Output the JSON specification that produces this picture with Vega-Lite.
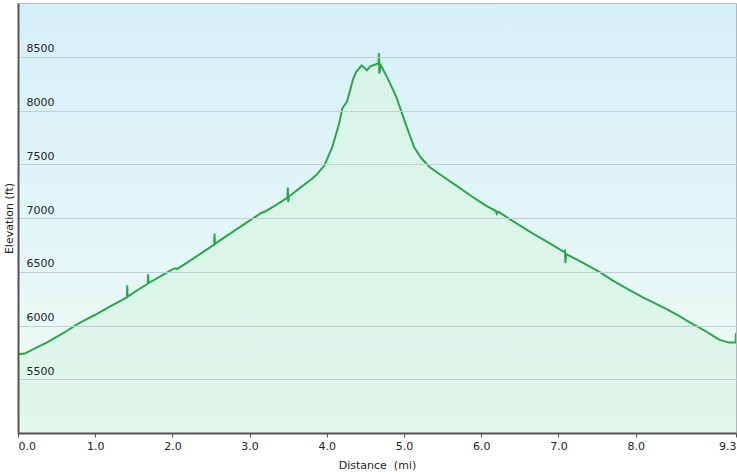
{
  "$schema": "https://vega.github.io/schema/vega-lite/v6.json",
  "width": 718,
  "height": 430,
  "autosize": {"type": "none"},
  "padding": {"left": 18, "top": 3, "right": 1, "bottom": 42},
  "background": "white",
  "data": {
    "values": [
      {"d": 0.00, "e": 5732}, {"d": 0.09, "e": 5739}, {"d": 0.20, "e": 5780},
      {"d": 0.39, "e": 5847}, {"d": 0.60, "e": 5935}, {"d": 0.78, "e": 6018},
      {"d": 1.00, "e": 6100}, {"d": 1.20, "e": 6180}, {"d": 1.41, "e": 6262},
      {"d": 1.415, "e": 6374}, {"d": 1.42, "e": 6268}, {"d": 1.55, "e": 6330},
      {"d": 1.68, "e": 6388}, {"d": 1.685, "e": 6476}, {"d": 1.69, "e": 6395},
      {"d": 1.85, "e": 6460}, {"d": 2.00, "e": 6522}, {"d": 2.03, "e": 6532},
      {"d": 2.06, "e": 6525}, {"d": 2.20, "e": 6590}, {"d": 2.40, "e": 6685},
      {"d": 2.54, "e": 6752}, {"d": 2.545, "e": 6855}, {"d": 2.55, "e": 6760},
      {"d": 2.80, "e": 6880}, {"d": 3.00, "e": 6975}, {"d": 3.15, "e": 7047},
      {"d": 3.20, "e": 7060}, {"d": 3.35, "e": 7125}, {"d": 3.49, "e": 7190},
      {"d": 3.495, "e": 7283}, {"d": 3.50, "e": 7150}, {"d": 3.51, "e": 7200},
      {"d": 3.64, "e": 7273}, {"d": 3.80, "e": 7360}, {"d": 3.86, "e": 7397},
      {"d": 3.97, "e": 7490}, {"d": 4.07, "e": 7660}, {"d": 4.16, "e": 7878},
      {"d": 4.20, "e": 8018}, {"d": 4.22, "e": 8040}, {"d": 4.26, "e": 8080},
      {"d": 4.29, "e": 8157}, {"d": 4.34, "e": 8290}, {"d": 4.38, "e": 8358},
      {"d": 4.45, "e": 8420}, {"d": 4.52, "e": 8374}, {"d": 4.56, "e": 8411},
      {"d": 4.64, "e": 8430}, {"d": 4.67, "e": 8440}, {"d": 4.675, "e": 8535},
      {"d": 4.68, "e": 8343}, {"d": 4.70, "e": 8420}, {"d": 4.79, "e": 8297},
      {"d": 4.90, "e": 8126}, {"d": 5.02, "e": 7878}, {"d": 5.13, "e": 7660},
      {"d": 5.22, "e": 7560}, {"d": 5.33, "e": 7474}, {"d": 5.50, "e": 7388},
      {"d": 5.70, "e": 7290}, {"d": 5.89, "e": 7195}, {"d": 6.05, "e": 7120},
      {"d": 6.19, "e": 7065}, {"d": 6.20, "e": 7040}, {"d": 6.22, "e": 7060},
      {"d": 6.40, "e": 6975}, {"d": 6.66, "e": 6860}, {"d": 6.90, "e": 6760},
      {"d": 7.08, "e": 6680}, {"d": 7.085, "e": 6706}, {"d": 7.09, "e": 6581},
      {"d": 7.10, "e": 6665}, {"d": 7.30, "e": 6590}, {"d": 7.53, "e": 6498},
      {"d": 7.70, "e": 6420}, {"d": 7.91, "e": 6334}, {"d": 8.10, "e": 6260},
      {"d": 8.39, "e": 6157}, {"d": 8.55, "e": 6095}, {"d": 8.69, "e": 6033},
      {"d": 8.90, "e": 5950}, {"d": 9.08, "e": 5869}, {"d": 9.21, "e": 5841},
      {"d": 9.295, "e": 5841}, {"d": 9.30, "e": 5930}
    ]
  },
  "encoding": {
    "x": {
      "field": "d",
      "type": "quantitative",
      "title": "Distance\u00a0 (mi)",
      "scale": {"domain": [0, 9.3], "nice": false, "zero": false},
      "axis": {
        "values": [0, 1, 2, 3, 4, 5, 6, 7, 8, 9.3],
        "format": ".1f",
        "grid": false,
        "labelFlush": true,
        "tickSize": 4,
        "labelPadding": 3,
        "titlePadding": 8,
        "zindex": 1
      }
    },
    "y": {
      "field": "e",
      "type": "quantitative",
      "title": "Elevation (ft)",
      "scale": {"domain": [5000, 9000], "nice": false, "zero": false},
      "axis": {
        "values": [5500, 6000, 6500, 7000, 7500, 8000, 8500],
        "format": "d",
        "grid": true,
        "ticks": false,
        "zindex": 1,
        "labelAlign": "left",
        "labelBaseline": "alphabetic",
        "labelPadding": -8,
        "labelOffset": -5,
        "titleX": -9,
        "titleY": 215,
        "titleAngle": -90,
        "titleAlign": "center",
        "titleBaseline": "middle"
      }
    }
  },
  "layer": [
    {
      "mark": {
        "type": "area",
        "clip": true,
        "color": {
          "gradient": "linear",
          "x1": 0, "y1": 0, "x2": 0, "y2": 1,
          "stops": [
            {"offset": 0, "color": "#d8f4e8"},
            {"offset": 1, "color": "#ebfbf0"}
          ]
        }
      }
    },
    {
      "mark": {"type": "line", "color": "#2aa64d", "strokeWidth": 2, "clip": true}
    }
  ],
  "config": {
    "font": "DejaVu Sans",
    "view": {
      "stroke": "#b4b8bc",
      "fill": {
        "gradient": "linear",
        "x1": 0, "y1": 0, "x2": 0, "y2": 1,
        "stops": [
          {"offset": 0, "color": "#d5effa"},
          {"offset": 1, "color": "#effcf3"}
        ]
      }
    },
    "axis": {
      "labelFont": "DejaVu Sans",
      "labelFontSize": 11,
      "labelColor": "#222222",
      "titleFont": "DejaVu Sans",
      "titleFontSize": 11,
      "titleFontWeight": "normal",
      "titleColor": "#222222",
      "domainColor": "#555555",
      "domainWidth": 2,
      "tickColor": "#555555",
      "tickWidth": 1,
      "gridColor": "#c3cfd3",
      "gridWidth": 1
    }
  }
}
